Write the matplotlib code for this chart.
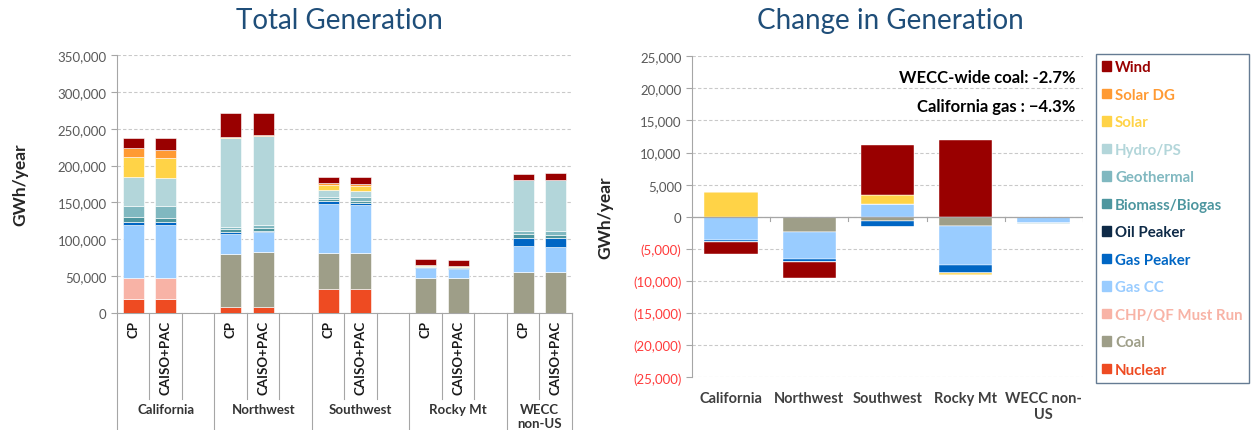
import matplotlib
matplotlib.use("Agg")
import matplotlib.pyplot as plt
import matplotlib.patches as mpatches
import matplotlib.ticker as mticker
import numpy as np

plt.rcParams["font.family"] = ["Lato", "DejaVu Sans"]

# ---------------------------------------------------------------------------
# Data (GWh/year)
# ---------------------------------------------------------------------------
regions = ["California", "Northwest", "Southwest", "Rocky Mt", "WECC\nnon-US"]
regions_right = ["California", "Northwest", "Southwest", "Rocky Mt", "WECC non-\nUS"]
scenarios = ["CP", "CAISO+PAC"]

resources = ["Nuclear", "Coal", "CHP/QF Must Run", "Gas CC", "Gas Peaker",
             "Oil Peaker", "Biomass/Biogas", "Geothermal", "Hydro/PS",
             "Solar", "Solar DG", "Wind"]

# columns: CA-CP, CA-CAISO, NW-CP, NW-CAISO, SW-CP, SW-CAISO, RM-CP, RM-CAISO, WE-CP, WE-CAISO
nuclear = [19000, 19000, 8600, 8600, 32500, 32500, 0, 0, 0, 0]
coal = [0, 0, 71400, 74500, 48800, 48800, 47400, 47400, 55100, 55100]
chp = [28400, 28400, 0, 0, 0, 0, 0, 0, 0, 0]
gas_cc = [72600, 72600, 27500, 26200, 67000, 65000, 13100, 12200, 35200, 34300]
gas_peaker = [3000, 3000, 2700, 2300, 3000, 3200, 1800, 1800, 10900, 11800]
oil_peaker = [500, 500, 300, 300, 300, 300, 200, 200, 500, 500]
biomass = [7000, 5200, 3500, 3100, 2500, 2500, 200, 200, 5200, 4500]
geothermal = [14500, 16300, 3200, 4100, 3400, 4500, 300, 300, 5000, 5500]
hydro = [39000, 37500, 120000, 120600, 8800, 9100, 500, 500, 68200, 68600]
solar = [28000, 27500, 1000, 1000, 6700, 6200, 1000, 1300, 300, 300]
solar_dg = [11600, 11800, 500, 600, 3200, 3200, 300, 300, 200, 200]
wind = [14000, 15800, 32500, 30300, 8600, 9100, 8100, 8100, 8500, 8500]

# change in generation by region
d_nuclear = [0, 0, 0, 0, 0]
d_coal = [0, -2300, -700, -1400, 0]
d_chp = [0, 0, 0, 0, 0]
d_gas_cc = [-3600, -4200, 1950, -6100, -1000]
d_gas_peaker = [-400, -600, -900, -1300, 0]
d_oil_peaker = [0, 0, 0, 0, 0]
d_biomass = [0, 0, 0, 0, 0]
d_geothermal = [0, 0, 0, 0, -200]
d_hydro = [0, 0, 0, 0, 0]
d_solar = [3800, 0, 1450, -200, 0]
d_solar_dg = [0, 0, 0, 0, 0]
d_wind = [-1800, -2400, 7800, 11900, 0]

COLORS = {
    "Nuclear": "#EE4B22",
    "Coal": "#9E9E88",
    "CHP/QF Must Run": "#F8B3A6",
    "Gas CC": "#99CCFF",
    "Gas Peaker": "#0066C4",
    "Oil Peaker": "#0E2A47",
    "Biomass/Biogas": "#4D969F",
    "Geothermal": "#80B8C0",
    "Hydro/PS": "#B3D6DA",
    "Solar": "#FFD347",
    "Solar DG": "#FF9A33",
    "Wind": "#990000",
}

TITLE_BLUE = "#1F4E79"
GRID = "#C9C9C9"
AXIS = "#A6A6A6"
TICK_TXT = "#595959"

total_series = [nuclear, coal, chp, gas_cc, gas_peaker, oil_peaker, biomass,
                geothermal, hydro, solar, solar_dg, wind]
change_series = [d_nuclear, d_coal, d_chp, d_gas_cc, d_gas_peaker, d_oil_peaker,
                 d_biomass, d_geothermal, d_hydro, d_solar, d_solar_dg, d_wind]


def _grid(ax):
    ax.grid(axis="y", color=GRID, linewidth=0.8, linestyle=(0, (3, 2)), zorder=0)
    ax.set_axisbelow(True)
    for s in ["top", "right"]:
        ax.spines[s].set_visible(False)
    ax.spines["left"].set_color(AXIS)
    ax.tick_params(axis="y", colors=AXIS, labelcolor=TICK_TXT, labelsize=9.5,
                   length=4, width=0.8)


fig = plt.figure(figsize=(12.54, 4.31), dpi=100)
fig.patch.set_facecolor("white")

# ---------------------------------------------------------------------------
# Left: Total generation
# ---------------------------------------------------------------------------
ax1 = fig.add_axes([0.0933, 0.2715, 0.3628, 0.5985])
_grid(ax1)

n_slots = len(regions) * 3 - 1
slots = [r * 3 + s for r in range(len(regions)) for s in range(len(scenarios))]
bottom = np.zeros(len(slots))
for name, vals in zip(resources, total_series):
    vals = np.array(vals, dtype=float)
    ax1.bar(slots, vals, bottom=bottom, width=0.65, color=COLORS[name],
            edgecolor="white", linewidth=0.4, zorder=3)
    bottom += vals

ax1.set_xlim(-0.5, n_slots - 0.5)
ax1.set_ylim(0, 350000)
ax1.yaxis.set_major_locator(mticker.MultipleLocator(50000))
ax1.yaxis.set_major_formatter(mticker.FuncFormatter(lambda v, p: f"{v:,.0f}"))
ax1.spines["bottom"].set_color(AXIS)
ax1.set_xticks(slots)
ax1.set_xticklabels(scenarios * len(regions), rotation=90, fontsize=9.5,
                    fontweight="bold", color="#1A1A1A", va="top")
ax1.tick_params(axis="x", length=0, pad=5)

# category separators below the axis
trans = ax1.get_xaxis_transform()
for r in range(len(regions)):
    start = r * 3 - 0.5
    ax1.plot([start, start], [0, -0.455], transform=trans, color=AXIS,
             lw=0.8, clip_on=False)
    for s in range(1, 3):
        xb = start + s
        if xb > n_slots - 0.5:
            continue
        ax1.plot([xb, xb], [0, -0.335], transform=trans, color=AXIS,
                 lw=0.8, clip_on=False)
ax1.plot([n_slots - 0.5] * 2, [0, -0.455], transform=trans, color=AXIS,
         lw=0.8, clip_on=False)
for r, reg in enumerate(regions):
    ncols = min(3, n_slots - r * 3)
    xc = r * 3 - 0.5 + ncols / 2
    ax1.text(xc, -0.35, reg, transform=trans, ha="center", va="top",
             fontsize=9.5, fontweight="bold", color="#333333", linespacing=1.2)

# ---------------------------------------------------------------------------
# Right: Change in generation
# ---------------------------------------------------------------------------
ax2 = fig.add_axes([0.5518, 0.1223, 0.3118, 0.7448])
_grid(ax2)
ax2.spines["bottom"].set_visible(False)

xr = np.arange(len(regions_right))
pos_b = np.zeros(len(xr))
neg_b = np.zeros(len(xr))
for name, vals in zip(resources, change_series):
    vals = np.array(vals, dtype=float)
    pos = np.clip(vals, 0, None)
    neg = np.clip(vals, None, 0)
    ax2.bar(xr, pos, bottom=pos_b, width=0.68, color=COLORS[name],
            edgecolor="white", linewidth=0.3, zorder=3)
    ax2.bar(xr, neg, bottom=neg_b, width=0.68, color=COLORS[name],
            edgecolor="white", linewidth=0.3, zorder=3)
    pos_b += pos
    neg_b += neg

ax2.set_xlim(-0.5, len(xr) - 0.5)
ax2.set_ylim(-25000, 25000)
ax2.axhline(0, color=AXIS, lw=0.9, zorder=4)
for xb in np.arange(len(xr)) + 0.5:
    ax2.plot([xb, xb], [0, -700], color=AXIS, lw=0.8, zorder=4)
ax2.yaxis.set_major_locator(mticker.MultipleLocator(5000))
ax2.yaxis.set_major_formatter(mticker.FuncFormatter(
    lambda v, p: f"{v:,.0f}" if v >= 0 else f"({-v:,.0f})"))
for lbl, val in zip(ax2.get_yticklabels(), ax2.get_yticks()):
    if val < 0:
        lbl.set_color("#FF3B3B")
ax2.set_xticks(xr)
ax2.set_xticklabels(regions_right, fontsize=10.5, fontweight="bold",
                    color="#404040", va="top", linespacing=1.15)
ax2.tick_params(axis="x", length=0, pad=10)

ax2.text(0.98, 0.935, "WECC-wide coal: -2.7%", transform=ax2.transAxes,
         ha="right", va="center", fontsize=12, fontweight="bold", color="black")
ax2.text(0.98, 0.845, "California gas : \u22124.3%", transform=ax2.transAxes,
         ha="right", va="center", fontsize=12, fontweight="bold", color="black")

# Legend
handles = [mpatches.Patch(color=COLORS[n], label=n) for n in resources[::-1]]
leg = fig.legend(handles=handles, loc="upper left", bbox_to_anchor=(0.874, 0.8724),
                 frameon=True, fancybox=False, edgecolor="#3F5A78",
                 handlelength=0.6, handleheight=0.6, handletextpad=0.25,
                 labelspacing=0.9, borderpad=0.42, borderaxespad=0,
                 prop={"size": 10.8, "weight": "bold"},
                 labelcolor=[COLORS[n] for n in resources[::-1]])
leg.get_frame().set_linewidth(1.0)

# Titles and axis labels
fig.text(0.271, 0.952, "Total Generation", ha="center", va="center",
         fontsize=20, color=TITLE_BLUE)
fig.text(0.710, 0.952, "Change in Generation", ha="center", va="center",
         fontsize=20, color=TITLE_BLUE)
fig.text(0.016, 0.571, "GWh/year", rotation=90, ha="center", va="center",
         fontsize=12.5, fontweight="bold", color="#262626")
fig.text(0.483, 0.494, "GWh/year", rotation=90, ha="center", va="center",
         fontsize=12.5, fontweight="bold", color="#262626")

fig.savefig("out.png", dpi=100, facecolor="white")
plt.close(fig)
